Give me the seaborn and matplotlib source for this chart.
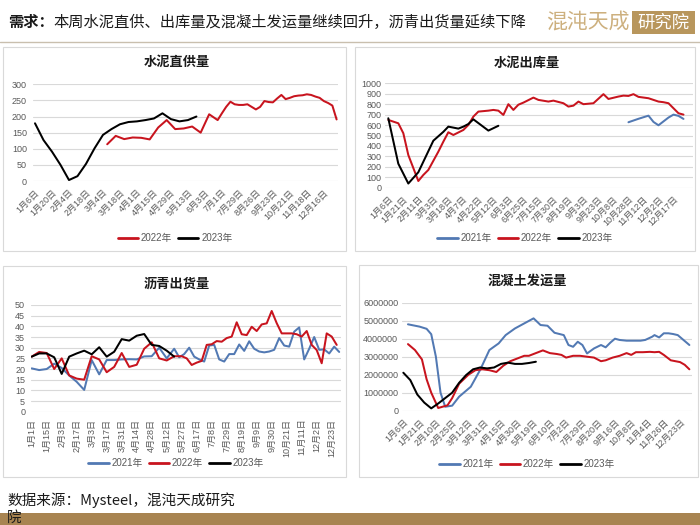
import numpy as np
import pandas as pd
import matplotlib
matplotlib.use("Agg")
import matplotlib.pyplot as plt
import seaborn as sns
from matplotlib.patches import Rectangle
from matplotlib.lines import Line2D
from matplotlib.ticker import FuncFormatter, MultipleLocator

sns.set_style("white")
plt.rcParams['font.family'] = ['Liberation Sans', 'Noto Sans CJK SC', 'DejaVu Sans']

# ------------------------------------------------------------------ data
# Panel 1: 水泥直供量 (category slots, tick label every 4 slots)
p1_ticks = ["1月6日", "1月20日", "2月4日", "2月18日", "3月4日", "3月18日", "4月1日", "4月15日",
            "4月29日", "5月13日", "6月3日", "7月1日", "7月29日", "8月26日", "9月23日", "10月21日",
            "11月18日", "12月16日"]
p1_2023_slot = list(range(0, 40, 2))
p1_2023 = [179, 127, 91, 50, 3, 15, 53, 101, 143, 161, 176, 183, 185, 189, 194, 210, 192, 185, 189, 200]
p1_2022_slot = list(range(17, 44, 2)) + list(range(44, 72))
p1_2022 = [114, 140, 130, 135, 134, 129, 166, 189, 161, 163, 169, 150, 207, 189,
           210, 230, 246, 238, 236, 236, 238, 230, 222, 230, 248, 245, 244, 256, 267, 254,
           258, 263, 265, 266, 269, 267, 262, 258, 248, 242, 234, 191]

# Panel 2: 水泥出库量 (tick label every 3 slots)
p2_ticks = ["1月6日", "1月21日", "2月11日", "3月3日", "3月18日", "4月7日", "4月22日", "5月12日",
            "6月3日", "6月25日", "7月15日", "7月30日", "8月19日", "9月3日", "9月23日", "10月8日",
            "10月28日", "11月12日", "12月2日", "12月17日"]
p2_2021_slot = [48, 50, 52, 53, 54, 56, 57, 58, 59]
p2_2021 = [627, 660, 690, 630, 598, 672, 700, 688, 659]
p2_2022_slot = [0, 2, 3, 4, 6, 7, 8, 10, 11, 12, 13, 15, 16, 17, 18, 20, 21, 22, 23, 24,
                25, 26, 27, 29, 30, 32, 33, 35, 36, 37, 38, 39, 41, 43, 44, 46, 47, 48, 49, 50,
                52, 54, 55, 56, 57, 58, 59]
p2_2022 = [649, 617, 522, 313, 64, 122, 170, 345, 441, 531, 505, 553, 601, 681, 729, 738, 745, 738, 697, 800,
           745, 795, 815, 863, 841, 825, 834, 809, 777, 786, 825, 800, 809, 896, 850, 873, 882, 879, 896, 870,
           857, 825, 819, 809, 761, 713, 700]
p2_2023_slot = [0, 2, 4, 6, 9, 11, 12, 14, 15, 16, 17, 20, 22]
p2_2023 = [665, 230, 40, 148, 450, 535, 585, 566, 585, 610, 655, 547, 593]

# Panel 3: 沥青出货量 (tick label every 6 slots)
p3_ticks = ["1月1日", "1月15日", "2月3日", "2月17日", "3月3日", "3月17日", "3月31日", "4月14日",
            "4月28日", "5月12日", "5月27日", "6月17日", "7月8日", "7月29日", "8月19日", "9月9日",
            "9月30日", "10月21日", "11月11日", "12月2日", "12月23日"]
p3_2021_slot = list(range(0, 58, 3)) + list(range(59, 124, 2))
p3_2021 = [20.3, 19.5, 20.0, 22.5, 20.5, 17.0, 14.0, 10.2, 24.2, 17.5, 24.2, 24.2, 24.5, 24.6, 24.5,
           25.9, 26.0, 30.0, 25.0, 29.5,
           25.5, 27.0, 30.0, 25.8, 24.5, 23.5, 31.0, 31.3, 24.5, 23.5, 27.0, 27.0, 31.5, 28.5, 33.0,
           29.5, 28.2, 27.8, 28.2, 29.0, 34.5, 31.0, 30.5, 37.5, 39.5, 24.5, 29.5, 35.0, 29.0, 29.2,
           27.3, 30.5, 28.0]
p3_2022_slot = list(range(0, 58, 3)) + list(range(60, 123, 2))
p3_2022 = [25.8, 28.0, 27.5, 20.0, 25.0, 17.0, 15.5, 15.0, 26.0, 24.5, 18.5, 21.0, 27.5, 21.0, 22.0,
           29.5, 32.5, 25.0, 24.0, 26.0,
           26.0, 25.0, 21.9, 23.0, 23.8, 31.3, 31.6, 33.1, 32.8, 34.5, 35.2, 41.9, 36.3, 35.9, 39.8,
           37.8, 40.9, 41.4, 47.2, 41.5, 36.7, 36.7, 36.7, 36.3, 35.2, 37.8, 31.3, 28.9, 22.7, 36.7,
           35.2, 31.3]
p3_2023_slot = list(range(0, 58, 3))
p3_2023 = [25.8, 27.3, 27.3, 25.5, 17.7, 25.8, 27.3, 28.6, 26.9, 30.2, 25.8, 28.1, 34.0, 33.3, 35.6,
           36.4, 31.3, 30.8, 28.6, 25.8]

# Panel 4: 混凝土发运量 (tick label every 7 slots)
p4_ticks = ["1月6日", "1月21日", "2月10日", "2月25日", "3月12日", "3月31日", "4月15日", "4月30日",
            "5月19日", "6月10日", "7月2日", "7月29日", "8月20日", "9月16日", "10月8日", "11月4日",
            "11月26日", "12月23日"]
p4_2021_slot = [2, 7, 10, 12, 14, 16, 18, 21, 24, 29, 33, 37, 41, 44, 48, 52, 56, 59, 62, 65,
                69, 71, 73, 75, 77, 79, 82, 85, 87, 89, 91, 93, 96, 99, 102, 104, 107, 108, 110, 112,
                114, 116, 118, 120, 123]
p4_2021 = [4.80e6, 4.67e6, 4.55e6, 4.25e6, 3.00e6, 1.00e6, 0.22e6, 0.28e6, 0.78e6, 1.33e6,
           2.26e6, 3.37e6, 3.74e6, 4.20e6, 4.57e6, 4.85e6, 5.13e6, 4.76e6, 4.72e6, 4.33e6,
           4.20e6, 3.65e6, 3.55e6, 3.83e6, 3.65e6, 3.18e6, 3.46e6, 3.65e6, 3.52e6, 3.78e6,
           4.00e6, 3.93e6, 3.89e6, 3.89e6, 3.89e6, 3.93e6, 4.11e6, 4.20e6, 4.07e6, 4.30e6,
           4.30e6, 4.26e6, 4.20e6, 3.98e6, 3.65e6]
p4_2022_slot = [2, 5, 8, 10, 12, 15, 19, 21, 24, 28, 31, 34, 37, 40, 43, 46, 49, 52, 54, 57,
                60, 63, 66, 68, 70, 73, 76, 79, 82, 85, 87, 90, 93, 96, 98, 100, 103, 106, 108, 110,
                112, 115, 117, 119, 121, 123]
p4_2022 = [3.70e6, 3.37e6, 2.85e6, 1.75e6, 1.00e6, 0.15e6, 0.30e6, 0.70e6, 1.50e6, 2.00e6,
           2.25e6, 2.30e6, 2.25e6, 2.15e6, 2.50e6, 2.75e6, 2.90e6, 3.05e6, 3.05e6, 3.20e6,
           3.35e6, 3.20e6, 3.15e6, 3.10e6, 2.95e6, 3.05e6, 3.05e6, 3.00e6, 2.95e6, 2.75e6,
           2.80e6, 2.95e6, 3.05e6, 3.20e6, 3.10e6, 3.25e6, 3.25e6, 3.27e6, 3.25e6, 3.27e6,
           3.10e6, 2.80e6, 2.75e6, 2.70e6, 2.55e6, 2.30e6]
p4_2023_slot = list(range(0, 58, 3))
p4_2023 = [2.11e6, 1.70e6, 0.90e6, 0.45e6, 0.13e6, 0.40e6, 0.70e6, 1.00e6, 1.55e6, 1.98e6,
           2.30e6, 2.40e6, 2.35e6, 2.40e6, 2.60e6, 2.67e6, 2.60e6, 2.60e6, 2.65e6, 2.72e6]

header_bold = "需求："
header_rest = "本周水泥直供、出库量及混凝土发运量继续回升，沥青出货量延续下降"
source_line1 = "数据来源：Mysteel，混沌天成研究"
source_line2 = "院"

# ------------------------------------------------------------------ styling
C21, C22, C23 = "#5279b3", "#c8141e", "#000000"
PALETTE = {"2021年": C21, "2022年": C22, "2023年": C23}
GRID = "#d9d9d9"
TXT = "#595959"

W, H = 700, 525
fig = plt.figure(figsize=(7, 5.25), dpi=100)
fig.patch.set_facecolor("white")


def fx(px):
    return px / W


def fy(py):
    return 1 - py / H


def axes_px(left, right, top, bottom):
    return fig.add_axes([fx(left), fy(bottom), (right - left) / W, (bottom - top) / H])


def box_px(x0, y0, x1, y1, color="#d9d9d9", lw=0.8):
    fig.add_artist(Rectangle((fx(x0), fy(y1)), (x1 - x0) / W, (y1 - y0) / H,
                             transform=fig.transFigure, fill=False, edgecolor=color, lw=lw))


def make_df(series):
    frames = []
    for name, slots, vals in series:
        frames.append(pd.DataFrame({"slot": slots, "value": vals, "year": name}))
    return pd.concat(frames, ignore_index=True)


def draw_panel(area, xlim, ylim, ystep, ticks, tick_every, series, rot, ypad, title, title_xy,
               legend_xy, yfmt=None):
    ax = axes_px(*area)
    df = make_df(series)
    order = [s[0] for s in series]
    sns.lineplot(data=df, x="slot", y="value", hue="year", hue_order=order, palette=PALETTE,
                 linewidth=1.45, ax=ax, legend=False, errorbar=None, sort=True)
    ax.set_xlim(*xlim)
    ax.set_ylim(*ylim)
    ax.yaxis.set_major_locator(MultipleLocator(ystep))
    if yfmt is not None:
        ax.yaxis.set_major_formatter(FuncFormatter(yfmt))
    ax.set_xticks(np.arange(len(ticks)) * tick_every)
    if rot == 90:
        ax.set_xticklabels(ticks, rotation=90, ha="center", va="top")
    else:
        ax.set_xticklabels(ticks, rotation=45, ha="right", rotation_mode="anchor")
    ax.set_xlabel("")
    ax.set_ylabel("")
    for sp in ax.spines.values():
        sp.set_visible(False)
    ax.grid(axis="y", color=GRID, lw=0.8)
    ax.grid(axis="x", visible=False)
    ax.set_axisbelow(True)
    ax.tick_params(axis="both", length=0, labelsize=6.5, labelcolor=TXT)
    ax.tick_params(axis="y", pad=ypad)
    ax.tick_params(axis="x", pad=5)
    ax.patch.set_alpha(0)
    fig.text(fx(title_xy[0]), fy(title_xy[1]), title, ha="center", va="center",
             fontsize=9.5, fontweight="bold", color="#1a1a1a",
             family=["Noto Sans CJK SC"])
    handles = [Line2D([0], [0], color=PALETTE[n], lw=2) for n in order]
    ax.legend(handles, order, loc="center", bbox_to_anchor=(fx(legend_xy[0]), fy(legend_xy[1])),
              bbox_transform=fig.transFigure, ncol=len(order), frameon=False, fontsize=7,
              labelcolor=TXT, handlelength=2.1, handletextpad=0.3, columnspacing=0.6)
    return ax


# panel frames
box_px(3, 47, 346, 251)
box_px(355, 47, 695, 251)
box_px(3, 266, 346, 477)
box_px(359, 265, 698, 477)

draw_panel((33.3, 338.3, 84.3, 181.0), (-0.4, 71.4), (0, 300), 50, p1_ticks, 4,
           [("2022年", p1_2022_slot, p1_2022), ("2023年", p1_2023_slot, p1_2023)],
           45, 4.5, "水泥直供量", (176.5, 62), (175, 238))

draw_panel((385.0, 693.0, 83.3, 187.7), (-0.66, 60.9), (0, 1000), 100, p2_ticks, 3,
           [("2021年", p2_2021_slot, p2_2021), ("2022年", p2_2022_slot, p2_2022),
            ("2023年", p2_2023_slot, p2_2023)],
           45, 2.5, "水泥出库量", (527, 63), (525, 238))

draw_panel((30.7, 340.7, 305.0, 411.7), (-0.4, 123.6), (0, 50), 5, p3_ticks, 6,
           [("2021年", p3_2021_slot, p3_2021), ("2022年", p3_2022_slot, p3_2022),
            ("2023年", p3_2023_slot, p3_2023)],
           90, 4.0, "沥青出货量", (177, 284), (176, 463))

draw_panel((401.7, 691.7, 302.7, 410.7), (-0.7, 124.0), (0, 6e6), 1e6, p4_ticks, 7,
           [("2021年", p4_2021_slot, p4_2021), ("2022年", p4_2022_slot, p4_2022),
            ("2023年", p4_2023_slot, p4_2023)],
           45, 2.5, "混凝土发运量", (527, 281), (527, 464),
           yfmt=lambda v, _: f"{int(round(v))}")

# ------------------------------------------------------------------ header / footer
t1 = fig.text(fx(8), fy(22), header_bold, ha="left", va="center", fontsize=11,
              fontweight="bold", color="#1a1a1a", family=["Noto Sans CJK SC"])
fig.add_artist(plt.Annotation(header_rest, xy=(1, 0.5), xycoords=t1, ha="left", va="center",
                              fontsize=11, color="#1a1a1a", family=["Noto Sans CJK SC"]))

fig.text(fx(588), fy(22), "混沌天成", ha="center", va="center", fontsize=15,
         color="#cdb07e", family=["Noto Sans CJK SC"], fontweight="light")
fig.add_artist(Rectangle((fx(632), fy(34)), 63 / W, 23 / H, transform=fig.transFigure,
                         facecolor="#b8965c", edgecolor="none"))
fig.text(fx(663.5), fy(22.5), "研究院", ha="center", va="center", fontsize=12.5,
         color="white", family=["Noto Sans CJK SC"])
fig.add_artist(Line2D([0, 1], [fy(42), fy(42)], transform=fig.transFigure,
                      color="#c9bfae", lw=1.0))

fig.add_artist(Rectangle((0, 0), 1, 12 / H, transform=fig.transFigure,
                         facecolor="#a88451", edgecolor="none"))
fig.text(fx(7), fy(500), source_line1, ha="left", va="center",
         fontsize=10.5, color="#1a1a1a", family=["Noto Sans CJK SC"])
fig.text(fx(7), fy(518), source_line2, ha="left", va="center", fontsize=10.5,
         color="#1a1a1a", family=["Noto Sans CJK SC"])

fig.savefig("out.png", dpi=100, facecolor="white")
